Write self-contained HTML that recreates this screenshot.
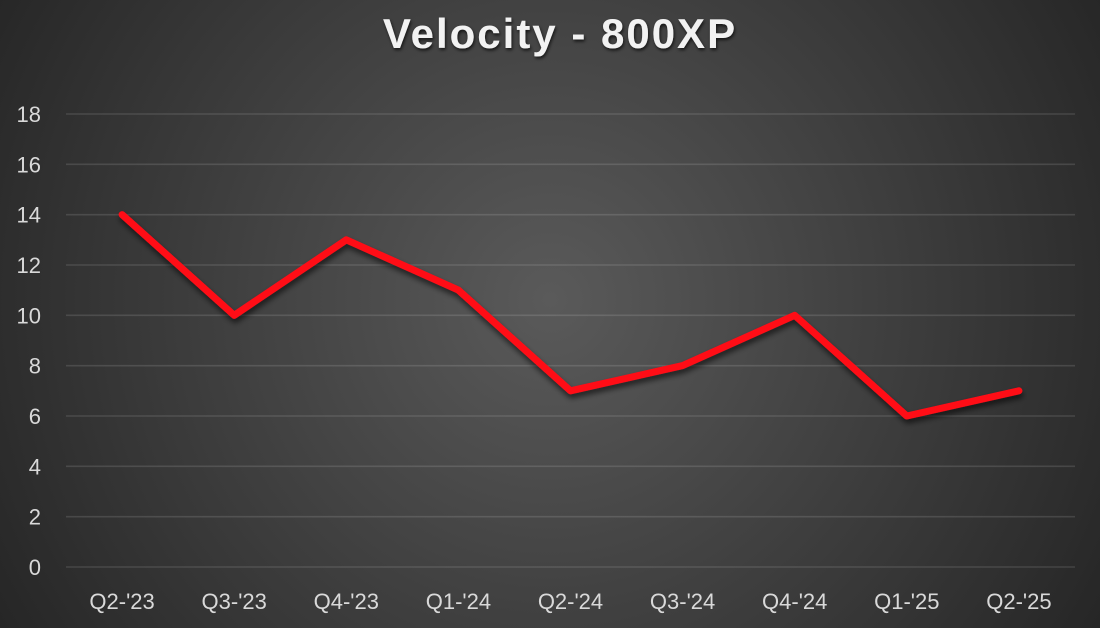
<!DOCTYPE html>
<html><head><meta charset="utf-8"><style>
html,body{margin:0;padding:0;}
body{width:1100px;height:628px;overflow:hidden;}
svg{display:block;}
text{font-family:"Liberation Sans",sans-serif;}
</style></head><body>
<svg width="1100" height="628" viewBox="0 0 1100 628" xmlns="http://www.w3.org/2000/svg">
<defs>
<radialGradient id="bg" cx="550" cy="300" r="640" gradientUnits="userSpaceOnUse">
<stop offset="0" stop-color="#5a5a5a"/>
<stop offset="1" stop-color="#262626"/>
</radialGradient>
<filter id="sh" x="-10%" y="-10%" width="120%" height="130%">
<feGaussianBlur in="SourceAlpha" stdDeviation="3"/>
<feOffset dx="1" dy="4" result="b"/>
<feComponentTransfer><feFuncA type="linear" slope="0.6"/></feComponentTransfer>
<feMerge><feMergeNode/><feMergeNode in="SourceGraphic"/></feMerge>
</filter>
<filter id="tsh" x="-10%" y="-20%" width="120%" height="150%">
<feGaussianBlur in="SourceAlpha" stdDeviation="1.5"/>
<feOffset dx="1" dy="2"/>
<feComponentTransfer><feFuncA type="linear" slope="0.7"/></feComponentTransfer>
<feMerge><feMergeNode/><feMergeNode in="SourceGraphic"/></feMerge>
</filter>
</defs>
<rect width="1100" height="628" fill="url(#bg)"/>
<text x="560" y="48" text-anchor="middle" font-size="42" font-weight="bold" fill="#f2f2f2" letter-spacing="2" filter="url(#tsh)">Velocity - 800XP</text>
<g stroke="#ffffff" stroke-opacity="0.12" stroke-width="1.6">
<line x1="66" y1="567" x2="1075" y2="567"/>
<line x1="66" y1="516.7" x2="1075" y2="516.7"/>
<line x1="66" y1="466.3" x2="1075" y2="466.3"/>
<line x1="66" y1="416" x2="1075" y2="416"/>
<line x1="66" y1="365.7" x2="1075" y2="365.7"/>
<line x1="66" y1="315.3" x2="1075" y2="315.3"/>
<line x1="66" y1="265" x2="1075" y2="265"/>
<line x1="66" y1="214.7" x2="1075" y2="214.7"/>
<line x1="66" y1="164.3" x2="1075" y2="164.3"/>
<line x1="66" y1="114" x2="1075" y2="114"/>
</g>
<g fill="#d9d9d9" font-size="22" text-anchor="end">
<text x="41" y="575">0</text>
<text x="41" y="524.7">2</text>
<text x="41" y="474.3">4</text>
<text x="41" y="424">6</text>
<text x="41" y="373.7">8</text>
<text x="41" y="323.3">10</text>
<text x="41" y="273">12</text>
<text x="41" y="222.7">14</text>
<text x="41" y="172.3">16</text>
<text x="41" y="122">18</text>
</g>
<g fill="#d9d9d9" font-size="22" text-anchor="middle">
<text x="122.1" y="609">Q2-'23</text>
<text x="234.2" y="609">Q3-'23</text>
<text x="346.3" y="609">Q4-'23</text>
<text x="458.4" y="609">Q1-'24</text>
<text x="570.5" y="609">Q2-'24</text>
<text x="682.6" y="609">Q3-'24</text>
<text x="794.7" y="609">Q4-'24</text>
<text x="906.8" y="609">Q1-'25</text>
<text x="1018.9" y="609">Q2-'25</text>
</g>
<polyline filter="url(#sh)" fill="none" stroke="#ff0a16" stroke-width="7" stroke-linejoin="round" stroke-linecap="round"
points="122.1,214.6 234.2,315.3 346.3,239.8 458.4,290.1 570.5,390.8 682.6,365.6 794.7,315.3 906.8,416 1018.9,390.8"/>
</svg>
</body></html>
